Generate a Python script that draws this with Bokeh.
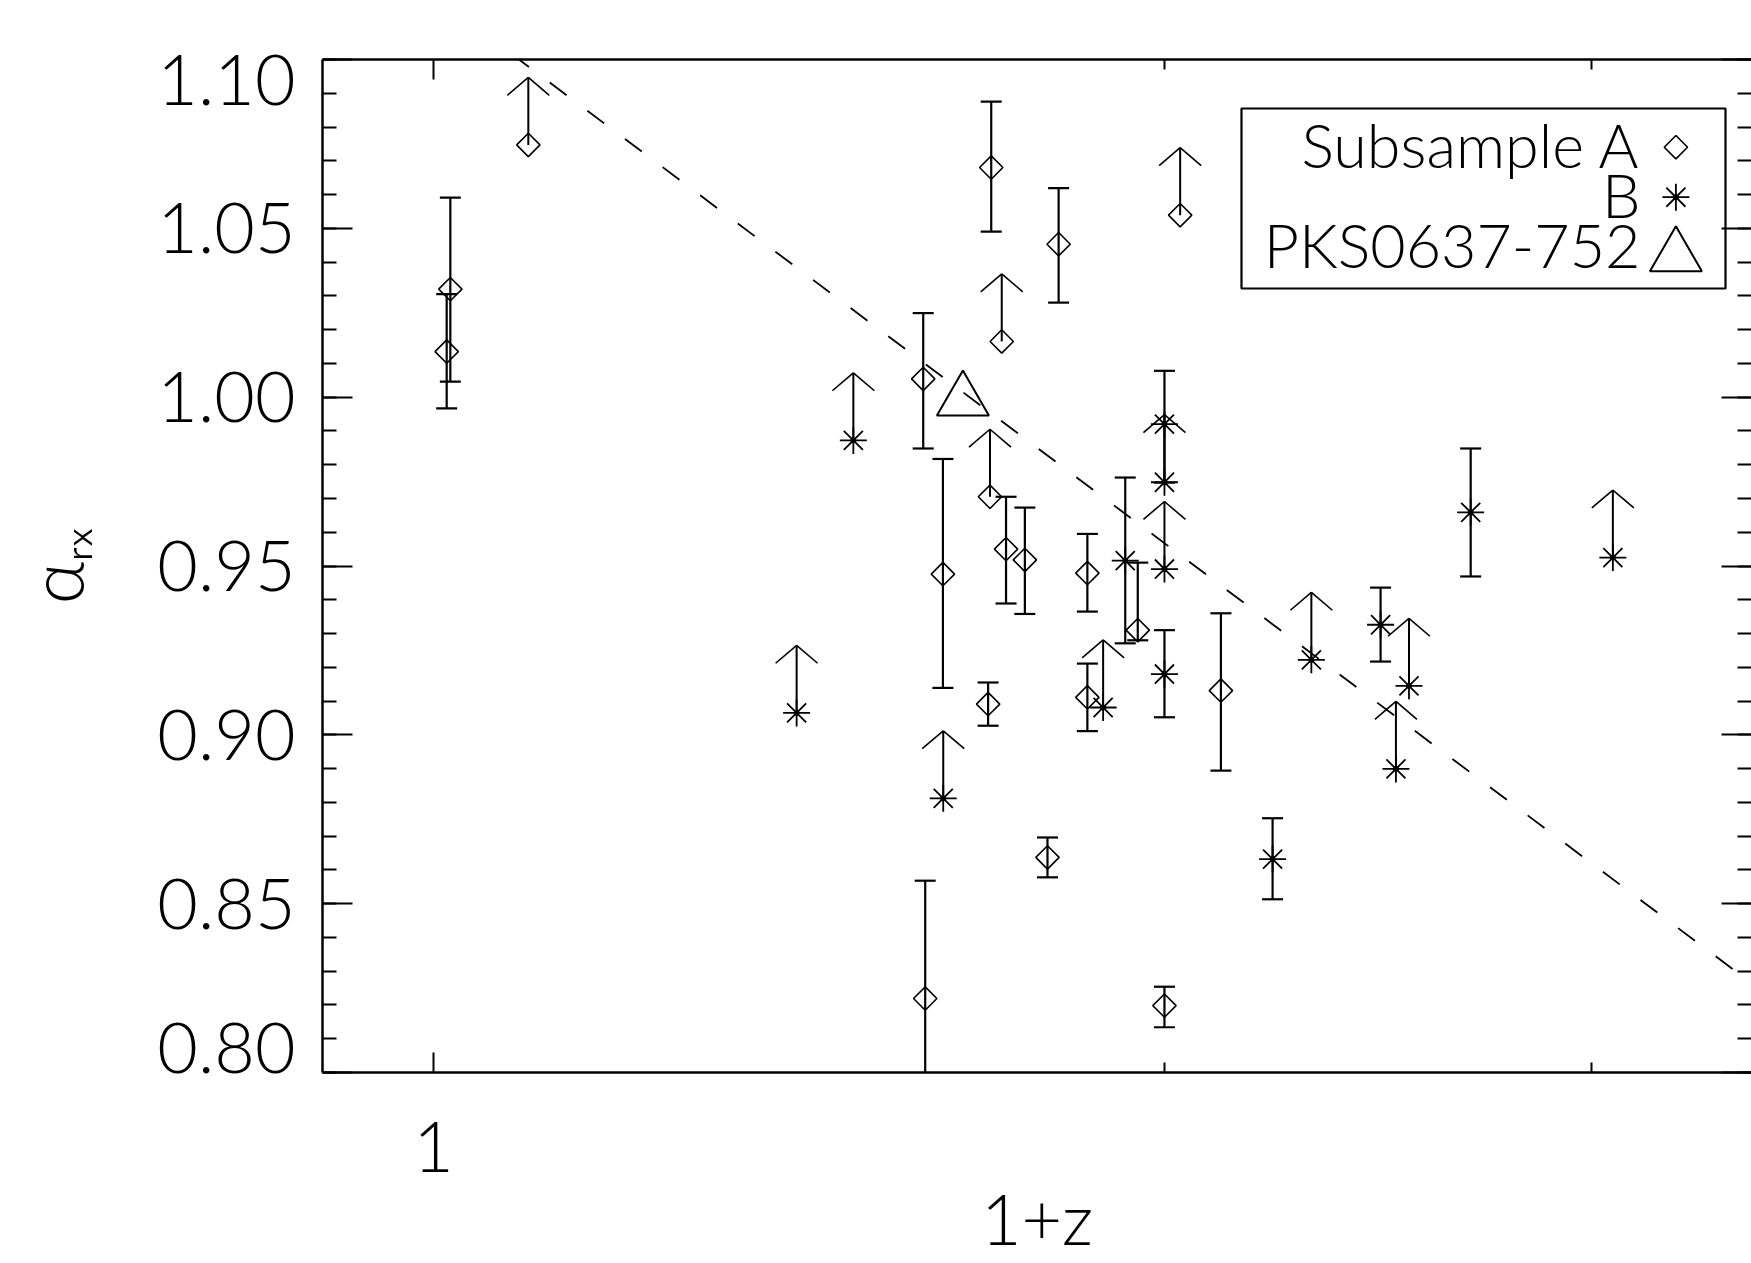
import numpy as np
from bokeh.plotting import figure
from bokeh.models import (Range1d, LinearScale, FixedTicker, LinearAxis, LogAxis,
                          CustomJSTickFormatter)
from bokeh.core.properties import value
from bokeh.embed import file_html
from bokeh.resources import INLINE

# ---------------- data ----------------
# Subsample A (diamonds) with error bars
a_err_x = [1.016, 1.0125, 1.697, 1.809, 1.591, 1.621, 1.721, 1.752, 1.692, 1.859,
           1.859, 1.950, 2.000, 1.790, 1.594, 2.110]
a_err_y = [1.032, 1.0135, 1.068, 1.0453, 1.0054, 0.9476, 0.9550, 0.9518, 0.9091, 0.9479,
           0.9111, 0.9310, 0.8198, 0.8637, 0.8219, 0.9131]
a_err_lo = [0.0274, 0.0168, 0.0190, 0.0173, 0.0206, 0.0337, 0.0161, 0.0160, 0.0064, 0.0114,
            0.0100, 0.0030, 0.0064, 0.0059, 0.0350, 0.0237]
a_err_hi = [0.0271, 0.0170, 0.0195, 0.0166, 0.0195, 0.0341, 0.0155, 0.0155, 0.0064, 0.0116,
            0.0100, 0.0200, 0.0056, 0.0059, 0.0349, 0.0229]
# Subsample A lower limits
a_lim_x = [1.094, 1.714, 2.030, 1.695]
a_lim_y = [1.0747, 1.0165, 1.0539, 0.9705]

# Subsample B (asterisks) with error bars
b_err_x = [2.000, 1.927, 2.000, 2.216, 2.455, 2.674]
b_err_y = [0.9920, 0.9516, 0.9180, 0.8632, 0.9326, 0.9659]
b_err_lo = [0.0173, 0.0245, 0.0128, 0.0119, 0.0109, 0.0190]
b_err_hi = [0.0158, 0.0246, 0.0130, 0.0121, 0.0110, 0.0189]
# Subsample B lower limits
b_lim_x = [1.489, 1.411, 1.6215, 1.887, 2.000, 2.000, 2.299, 2.522, 2.491, 3.060]
b_lim_y = [0.9872, 0.9065, 0.8812, 0.9081, 0.9748, 0.9491, 0.9222, 0.9145, 0.8899, 0.9525]

# PKS0637-752
pks_x = [1.652]
pks_y = [0.999]

# dashed fit line (end points)
fit_x = [0.9, 3.5]
fit_y = [1.1436, 0.8258]

# axes
ytick_major = [0.80, 0.85, 0.90, 0.95, 1.00, 1.05, 1.10]
ytick_labels = ["0.80", "0.85", "0.90", "0.95", "1.00", "1.05", "1.10"]
ytick_minor = [round(0.80 + 0.01 * i, 2) for i in range(31)]
xtick_major = [1.0]
xtick_labels = ["1"]
xtick_minor = [2.0, 3.0]

legend_labels = ["Subsample A", "B", "PKS0637-752"]
x_title = "1+z"
y_title = "αᵣₓ"

# ---------------- style ----------------
FONT = "Lato Light, Lato, sans-serif"
TICK_FS = 70
LIM_LEN = 0.02        # length of lower-limit arrows (data units)
HEAD_DLOG = 0.00865   # half width of arrow head (decades)
HEAD_DY = 0.0053      # depth of arrow head (data units)
FRAME_W, FRAME_H = 1429, 1013
PX_PER_Y = FRAME_H / (1.10 - 0.80)

p = figure(width=1751, height=1263, x_axis_type="log",
           x_range=Range1d(0.9, 3.49), y_range=Range1d(0.80, 1.10),
           output_backend="svg", toolbar_location=None,
           min_border_left=322, min_border_right=0, min_border_top=59,
           min_border_bottom=191)
p.outline_line_color = None
p.grid.visible = False
p.background_fill_color = "white"
p.border_fill_color = "white"

# pixel-space ranges for the legend box
p.extra_x_ranges = {"px": Range1d(0, FRAME_W)}
p.extra_x_scales = {"px": LinearScale()}
p.extra_y_ranges = {"px": Range1d(FRAME_H, 0)}


def style_axis(ax, maj_in, min_in):
    ax.axis_line_color = "black"
    ax.axis_line_width = 2.5
    ax.major_tick_in = maj_in
    ax.major_tick_out = 0
    ax.minor_tick_in = min_in
    ax.minor_tick_out = 0
    ax.major_tick_line_width = 2
    ax.minor_tick_line_width = 2
    ax.major_tick_line_color = "black"
    ax.minor_tick_line_color = "black"


empty = CustomJSTickFormatter(code="return ''")

# bottom x axis
xb = p.xaxis[0]
xb.ticker = FixedTicker(ticks=xtick_major, minor_ticks=xtick_minor)
xb.major_label_overrides = dict(zip(xtick_major, xtick_labels))
style_axis(xb, 20, 10)
xb.major_label_standoff = 49
xb.major_label_text_font = FONT
xb.major_label_text_font_size = f"{TICK_FS}px"
xb.major_label_text_color = "black"
xb.axis_label = x_title
xb.axis_label_text_font = FONT
xb.axis_label_text_font_size = "70px"
xb.axis_label_text_font_style = "normal"
xb.axis_label_text_color = "black"
xb.axis_label_standoff = 1

# left y axis: line and ticks
yl = p.yaxis[0]
yl.ticker = FixedTicker(ticks=ytick_major, minor_ticks=ytick_minor)
yl.formatter = empty
yl.major_label_standoff = 0
yl.major_label_text_font_size = "1px"
style_axis(yl, 30, 14)

# left y axis: labels (end labels kept inside the axis extent, as in the original)
label_pos = list(ytick_major)
label_pos[0] = label_pos[0] + 25 / PX_PER_Y
label_pos[-1] = label_pos[-1] - 20 / PX_PER_Y
ylab = LinearAxis(ticker=FixedTicker(ticks=label_pos, minor_ticks=[]),
                  major_label_overrides=dict(zip(label_pos, ytick_labels)),
                  axis_line_color=None, major_tick_line_color=None, minor_tick_line_color=None,
                  major_tick_in=0, major_tick_out=0, minor_tick_in=0, minor_tick_out=0,
                  major_label_standoff=27, major_label_text_font=FONT,
                  major_label_text_font_size=f"{TICK_FS}px", major_label_text_color="black",
                  axis_label=y_title, axis_label_text_font=FONT, axis_label_text_font_size="74px",
                  axis_label_text_font_style="normal", axis_label_text_color="black",
                  axis_label_standoff=54)
p.add_layout(ylab, "left")

# top x axis (ticks only)
xt = LogAxis(ticker=FixedTicker(ticks=xtick_major, minor_ticks=xtick_minor), formatter=empty,
             major_label_standoff=0, major_label_text_font_size="1px")
style_axis(xt, 20, 10)
p.add_layout(xt, "above")

# right y axis (ticks only; the line itself is cut off in the picture)
yr = LinearAxis(ticker=FixedTicker(ticks=ytick_major, minor_ticks=ytick_minor), formatter=empty,
                major_label_standoff=0, major_label_text_font_size="1px")
style_axis(yr, 30, 14)
yr.axis_line_color = None
p.add_layout(yr, "right")

# dashed fit line
p.line(fit_x, fit_y, line_color="black", line_width=1.8, line_dash="21 26",
       line_dash_offset=45)


def error_bars(x, y, lo, hi):
    x = np.array(x); y = np.array(y); lo = np.array(lo); hi = np.array(hi)
    p.segment(x, y - lo, x, y + hi, line_color="black", line_width=2.2)
    p.scatter(np.concatenate([x, x]), np.concatenate([y - lo, y + hi]), marker="dash",
              size=21, line_color="black", line_width=2.2)


def lower_limits(x, y):
    x = np.array(x); y = np.array(y); tip = y + LIM_LEN
    k = 10 ** HEAD_DLOG
    p.segment(x, y, x, tip, line_color="black", line_width=2)
    p.segment(x, tip, x * k, tip - HEAD_DY, line_color="black", line_width=1.6)
    p.segment(x, tip, x / k, tip - HEAD_DY, line_color="black", line_width=1.6)


error_bars(a_err_x, a_err_y, a_err_lo, a_err_hi)
error_bars(b_err_x, b_err_y, b_err_lo, b_err_hi)
lower_limits(a_lim_x, a_lim_y)
lower_limits(b_lim_x, b_lim_y)

DIAMOND = dict(marker="square", angle=np.pi / 4, size=16.5, fill_color=None,
               line_color="black", line_width=1.6)
STAR = dict(marker="asterisk", size=27, line_color="black", line_width=1.8)
DOT = dict(marker="circle", size=5, fill_color="black", line_color="black")
TRI = dict(marker="triangle", size=52, fill_color=None, line_color="black", line_width=2)

p.scatter(a_err_x + a_lim_x, a_err_y + a_lim_y, **DIAMOND)
p.scatter(b_err_x + b_lim_x, b_err_y + b_lim_y, **STAR)
p.scatter(b_err_x + b_lim_x, b_err_y + b_lim_y, **DOT)
p.scatter(pks_x, pks_y, **TRI)

# legend (drawn in frame pixel space, y downwards)
LEG_FS = 61
PX = dict(x_range_name="px", y_range_name="px")
leg_base = np.array([102.7, 152.7, 202.7])
p.quad(left=[919], right=[1403], top=[49], bottom=[229], fill_color=None,
       line_color="black", line_width=2.2, **PX)
p.text(x=[1318] * 3, y=leg_base - 0.883 * LEG_FS, text=legend_labels, text_align="right",
       text_baseline="top", text_font=value(FONT), text_font_size=f"{LEG_FS}px",
       text_color="black", **PX)
p.scatter([1353.4], [87.7], **DIAMOND, **PX)
p.scatter([1353.4], [137.7], **STAR, **PX)
p.scatter([1353.4], [137.7], **DOT, **PX)
p.scatter([1353.4], [196.8], **TRI, **PX)

open("out.html", "w").write(file_html(p, INLINE))
